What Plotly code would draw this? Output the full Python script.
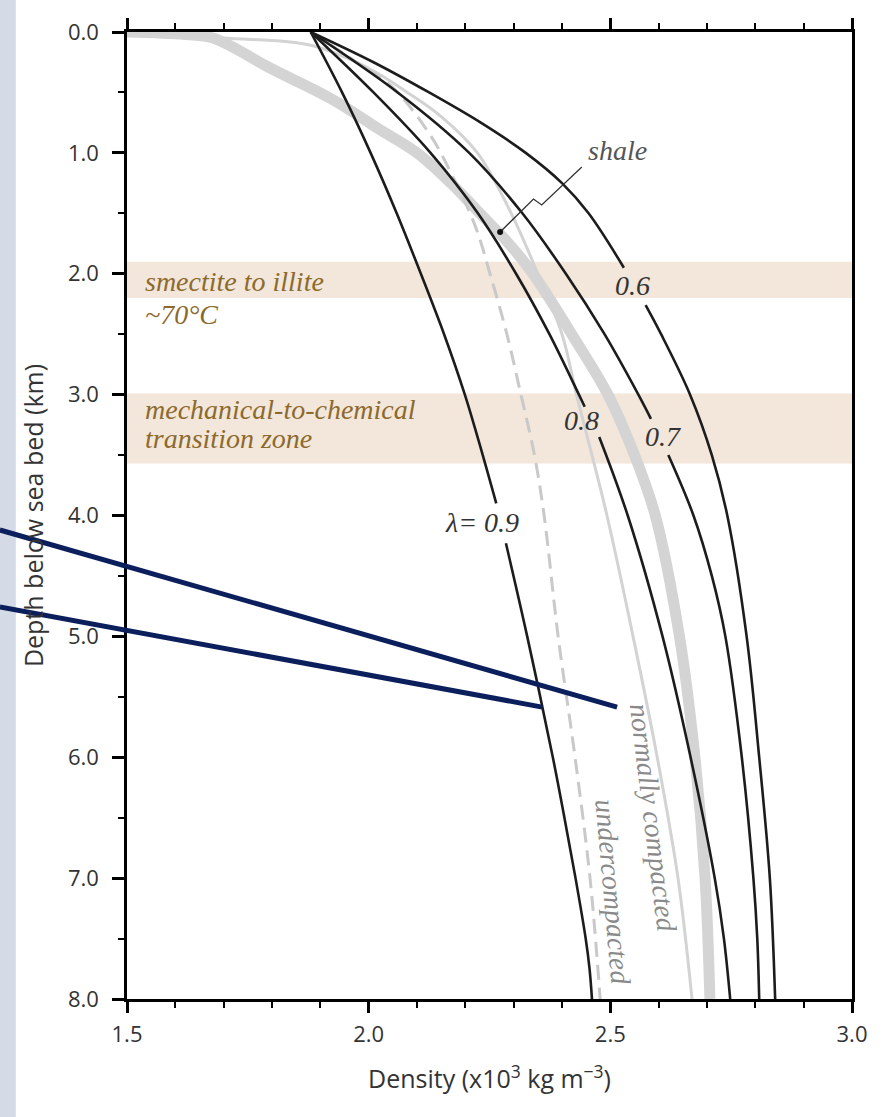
import plotly.graph_objects as go

# ---------------- data ----------------
# depth in km, density in 10^3 kg m^-3 ; None = gap under a curve label
lam06_depth = [0.0, 0.25, 0.5, 0.75, 1.0, 1.25, 1.5, 1.95, None, 2.26, 2.5, 3.0, 3.5, 4.0, 5.0, 6.0, 7.0, 8.0]
lam06_dens = [1.88, 2.01, 2.125, 2.232, 2.325, 2.40, 2.455, 2.528, None, 2.573, 2.605, 2.665, 2.71, 2.742, 2.782, 2.808, 2.83, 2.841]

lam07_depth = [0.0, 0.5, 1.0, 1.5, 2.0, 2.5, 3.0, 3.2, None, 3.5, 4.0, 4.5, 5.0, 6.0, 7.0, 7.5, 8.0]
lam07_dens = [1.88, 2.06, 2.208, 2.318, 2.408, 2.488, 2.558, 2.584, None, 2.62, 2.672, 2.71, 2.738, 2.772, 2.796, 2.804, 2.808]

lam08_depth = [0.0, 0.5, 1.0, 1.5, 2.0, 2.5, 3.0, 3.1, None, 3.35, 4.0, 5.0, 6.0, 7.0, 7.5, 8.0]
lam08_dens = [1.88, 2.01, 2.128, 2.226, 2.305, 2.374, 2.435, 2.447, None, 2.477, 2.536, 2.608, 2.666, 2.716, 2.735, 2.748]

lam09_depth = [0.0, 0.5, 1.0, 1.5, 2.0, 2.5, 3.0, 3.5, 3.9, None, 4.23, 5.0, 6.0, 6.5, 7.0, 7.5, 7.75, 8.0]
lam09_dens = [1.88, 1.945, 2.004, 2.058, 2.108, 2.156, 2.199, 2.236, 2.264, None, 2.284, 2.328, 2.381, 2.405, 2.428, 2.449, 2.457, 2.462]

under_depth = [0.0, 0.25, 0.46, 0.85, 1.1, 1.6, 2.0, 2.5, 3.0, 3.5, 4.0, 5.0, 6.0, 7.0, 8.0]
under_dens = [1.88, 1.975, 2.05, 2.127, 2.162, 2.22, 2.251, 2.286, 2.315, 2.343, 2.363, 2.392, 2.427, 2.458, 2.479]

normal_depth = [0.0, 0.05, 0.11, 0.3, 0.5, 0.7, 1.0, 1.5, 2.0, 2.5, 3.0, 3.5, 4.0, 5.0, 6.0, 7.0, 8.0]
normal_dens = [1.5, 1.70, 1.88, 2.0, 2.08, 2.15, 2.225, 2.295, 2.35, 2.40, 2.43, 2.462, 2.493, 2.547, 2.597, 2.64, 2.669]

shale_depth = [0.0, 0.02, 0.05, 0.3, 0.56, 0.8, 1.0, 1.25, 1.5, 1.75, 2.0, 2.5, 3.0, 3.5, 4.0, 5.0, 6.0, 7.0, 8.0]
shale_dens = [1.5, 1.62, 1.678, 1.797, 1.926, 2.02, 2.10, 2.17, 2.23, 2.29, 2.34, 2.42, 2.495, 2.55, 2.593, 2.643, 2.675, 2.696, 2.706]

# shale leader (dot on the shale curve, broken leader up to the label)
leader_dens = [2.272, 2.341, 2.358, 2.441]
leader_depth = [1.655, 1.382, 1.431, 1.117]

# horizontal zones
zone_top = [1.90, 2.99]
zone_bottom = [2.20, 3.57]

# tick labels
x_ticks = [1.5, 2.0, 2.5, 3.0]
x_ticktext = ["1.5", "2.0", "2.5", "3.0"]
y_ticks = [0, 1, 2, 3, 4, 5, 6, 7, 8]
y_ticktext = ["0.0", "1.0", "2.0", "3.0", "4.0", "5.0", "6.0", "7.0", "8.0"]

# navy pointer lines (start at figure's left edge, end inside plot)
navy_upper = [(1.237, 4.12), (2.514, 5.585)]
navy_lower = [(1.237, 4.757), (2.359, 5.585)]

# ---------------- figure ----------------
XMIN, XMAX = 1.5, 3.0
YMIN, YMAX = 0.0, 8.0
BLACK = "#1c1c1c"
SERIF = "Liberation Serif, Times New Roman, DejaVu Serif, serif"
SANS = "Open Sans"
BROWN = "#8c6a2c"
SM = 1.0


def xp(x):
    return (x - XMIN) / (XMAX - XMIN)


def yp(y):
    return (YMAX - y) / (YMAX - YMIN)


fig = go.Figure()

fig.add_trace(go.Scatter(x=shale_dens, y=shale_depth, mode="lines",
                         line=dict(color="#d4d4d4", width=11, shape="spline", smoothing=SM),
                         hoverinfo="skip"))
fig.add_trace(go.Scatter(x=normal_dens, y=normal_depth, mode="lines",
                         line=dict(color="#d3d3d3", width=3, shape="spline", smoothing=SM),
                         hoverinfo="skip"))
fig.add_trace(go.Scatter(x=under_dens, y=under_depth, mode="lines",
                         line=dict(color="#c9c9c9", width=3, dash="15px,8px", shape="spline", smoothing=SM),
                         hoverinfo="skip"))
for xs, ys in [(lam06_dens, lam06_depth), (lam07_dens, lam07_depth),
               (lam08_dens, lam08_depth), (lam09_dens, lam09_depth)]:
    fig.add_trace(go.Scatter(x=xs, y=ys, mode="lines", connectgaps=False,
                             line=dict(color=BLACK, width=2.6, shape="spline", smoothing=SM),
                             hoverinfo="skip"))

fig.add_trace(go.Scatter(x=leader_dens, y=leader_depth, mode="lines",
                         line=dict(color="#333333", width=1.3), hoverinfo="skip"))
fig.add_trace(go.Scatter(x=leader_dens[:1], y=leader_depth[:1], mode="markers",
                         marker=dict(color="#111111", size=6), hoverinfo="skip"))

shapes = []
for t, b in zip(zone_top, zone_bottom):
    shapes.append(dict(type="rect", xref="x", yref="y", x0=XMIN, x1=XMAX, y0=t, y1=b,
                       fillcolor="#f3e6da", line=dict(width=0), layer="below"))
# left strip
shapes.append(dict(type="rect", xref="paper", yref="paper",
                   x0=xp(1.20), x1=xp(1.270), y0=-0.2, y1=1.1,
                   fillcolor="#d4dbe6", line=dict(width=0), layer="below"))
for seg in (navy_upper, navy_lower):
    (x0, y0), (x1, y1) = seg
    shapes.append(dict(type="line", xref="paper", yref="paper",
                       x0=xp(x0), y0=yp(y0), x1=xp(x1), y1=yp(y1),
                       line=dict(color="#0b1f5c", width=5), layer="above"))

ann = []


def label(text, x, y, size=28, color="#333333", xanchor="center", angle=0):
    ann.append(dict(text=text, x=x, y=y, xref="x", yref="y", showarrow=False,
                    xanchor=xanchor, yanchor="middle", textangle=angle,
                    font=dict(family=SERIF, size=size, color=color, style="italic")))


label("smectite to illite", 1.533, 2.06, color=BROWN, xanchor="left")
label("~70°C", 1.533, 2.34, color=BROWN, xanchor="left")
label("mechanical-to-chemical", 1.533, 3.12, color=BROWN, xanchor="left")
label("transition zone", 1.533, 3.36, color=BROWN, xanchor="left")
label("0.6", 2.545, 2.10)
label("0.7", 2.609, 3.35)
label("0.8", 2.441, 3.21)
label("λ= 0.9", 2.234, 4.06)
label("shale", 2.514, 0.98, color="#555555")
label("normally compacted", 2.588, 6.50, color="#8a8a8a", angle=83)
label("undercompacted", 2.505, 7.12, color="#8a8a8a", angle=85)

fig.update_layout(
    width=892, height=1117,
    margin=dict(l=127, r=40, t=32, b=118),
    paper_bgcolor="white", plot_bgcolor="white",
    showlegend=False,
    shapes=shapes, annotations=ann,
    xaxis=dict(range=[XMIN, XMAX], tickvals=x_ticks, ticktext=x_ticktext,
               ticks="outside", ticklen=11, tickwidth=2.5, tickcolor="black",
               showline=True, linewidth=2.5, linecolor="black", mirror="ticks",
               showgrid=False, zeroline=False, ticklabelstandoff=3,
               minor=dict(dtick=0.1, ticks="outside", ticklen=6, tickwidth=2, tickcolor="black"),
               tickfont=dict(family=SANS, size=22, color="#333333"),
               title=dict(text="Density (x10<sup>3</sup> kg m<sup>−3</sup>)",
                          font=dict(family=SANS, size=25, color="#333333"), standoff=24)),
    yaxis=dict(range=[YMAX, YMIN], tickvals=y_ticks, ticktext=y_ticktext,
               ticks="outside", ticklen=12, tickwidth=2.5, tickcolor="black",
               showline=True, linewidth=2.5, linecolor="black", mirror=True,
               showgrid=False, zeroline=False, ticklabelstandoff=9,
               minor=dict(dtick=0.5, ticks="outside", ticklen=6, tickwidth=2, tickcolor="black"),
               tickfont=dict(family=SANS, size=22, color="#333333"),
               title=dict(text="Depth below sea bed (km)",
                          font=dict(family=SANS, size=25, color="#333333"), standoff=18)),
)

fig.write_html("out.html", config={"displayModeBar": False},
               post_script="document.body.style.margin='0px';document.body.style.padding='0px';")
